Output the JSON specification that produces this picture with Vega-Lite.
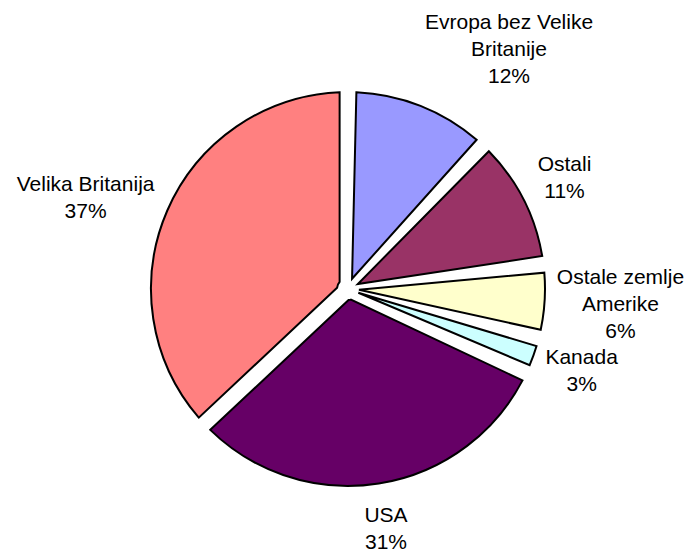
{
  "$schema": "https://vega.github.io/schema/vega-lite/v6.json",
  "autosize": {"type": "none"},
  "width": 676,
  "height": 524,
  "padding": {"left": 10, "top": 27, "right": 1, "bottom": 0},
  "background": "white",
  "config": {"view": {"stroke": null}},
  "data": {
    "values": [
      {"idx": 1, "cat": "Evropa bez Velike Britanije", "value": 12, "label": "Evropa bez Velike\nBritanije\n12%"},
      {"idx": 2, "cat": "Ostali", "value": 11, "label": "Ostali\n11%"},
      {"idx": 3, "cat": "Ostale zemlje Amerike", "value": 6, "label": "Ostale zemlje\nAmerike\n6%"},
      {"idx": 4, "cat": "Kanada", "value": 3, "label": "Kanada\n3%"},
      {"idx": 5, "cat": "USA", "value": 31, "label": "USA\n31%"},
      {"idx": 6, "cat": "Velika Britanija", "value": 37, "label": "Velika Britanija\n37%"}
    ]
  },
  "encoding": {
    "theta": {"field": "value", "type": "quantitative", "stack": true},
    "order": {"field": "idx", "type": "quantitative"}
  },
  "layer": [
    {
      "mark": {"type": "arc", "outerRadius": 197, "innerRadius": 11, "padAngle": 0.085, "stroke": "black", "strokeWidth": 2, "strokeJoin": "miter"},
      "encoding": {
        "color": {
          "field": "cat",
          "type": "nominal",
          "scale": {
            "domain": ["Evropa bez Velike Britanije", "Ostali", "Ostale zemlje Amerike", "Kanada", "USA", "Velika Britanija"],
            "range": ["#9999FF", "#993366", "#FFFFCC", "#CCFFFF", "#660066", "#FF8080"]
          },
          "legend": null
        }
      }
    },
    {
      "mark": {"type": "text", "radius": 243, "dy": -13.5, "font": "Liberation Sans", "fontSize": 21, "lineHeight": 27, "lineBreak": "\n", "align": "center", "baseline": "middle", "color": "black"},
      "encoding": {
        "text": {"condition": {"test": "indexof(['Ostali','USA'], datum.cat) >= 0", "field": "label"}, "value": ""}
      }
    },
    {
      "mark": {"type": "text", "radius": 243, "dx": 5, "dy": -13.5, "font": "Liberation Sans", "fontSize": 21, "lineHeight": 27, "lineBreak": "\n", "align": "center", "baseline": "middle", "color": "black"},
      "encoding": {
        "text": {"condition": {"test": "datum.cat == 'Kanada'", "field": "label"}, "value": ""}
      }
    },
    {
      "mark": {"type": "text", "radius": 275, "dx": -10, "dy": 5, "font": "Liberation Sans", "fontSize": 21, "lineHeight": 27, "lineBreak": "\n", "align": "center", "baseline": "middle", "color": "black"},
      "encoding": {
        "text": {"condition": {"test": "datum.cat == 'Velika Britanija'", "field": "label"}, "value": ""}
      }
    },
    {
      "mark": {"type": "text", "radius": 275, "dx": -2, "dy": -28, "font": "Liberation Sans", "fontSize": 21, "lineHeight": 27, "lineBreak": "\n", "align": "center", "baseline": "middle", "color": "black"},
      "encoding": {
        "text": {"condition": {"test": "datum.cat == 'Ostale zemlje Amerike'", "field": "label"}, "value": ""}
      }
    },
    {
      "mark": {"type": "text", "radius": 288, "dx": 55, "dy": 2, "font": "Liberation Sans", "fontSize": 21, "lineHeight": 27, "lineBreak": "\n", "align": "center", "baseline": "middle", "color": "black"},
      "encoding": {
        "text": {"condition": {"test": "datum.cat == 'Evropa bez Velike Britanije'", "field": "label"}, "value": ""}
      }
    }
  ]
}
